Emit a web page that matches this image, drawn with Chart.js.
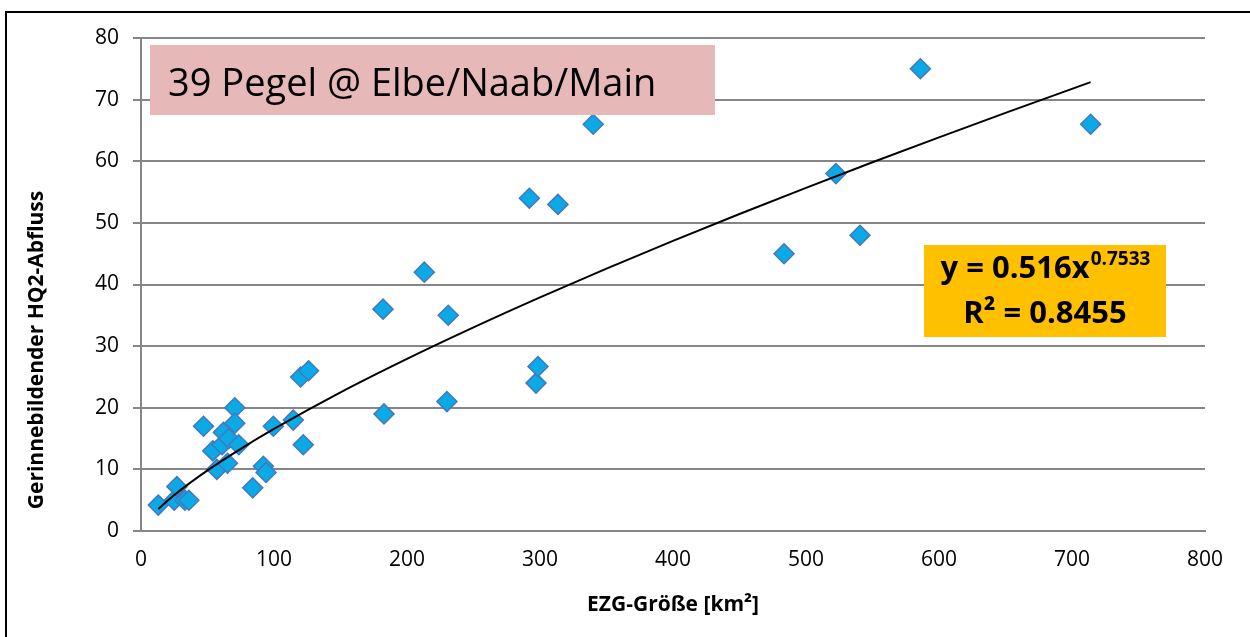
<!DOCTYPE html>
<html>
<head>
<meta charset="utf-8">
<script src="https://cdn.jsdelivr.net/npm/chart.js@4/dist/chart.umd.min.js"></script>
<style>
  html, body { margin: 0; padding: 0; background: #fff; }
  #wrap { width: 1250px; height: 637px; position: relative; }
</style>
</head>
<body>
<div id="wrap"><canvas id="c" width="1250" height="637"></canvas></div>
<script>
// Pegel: EZG-Größe [km²] and HQ2 discharge
const ezg = [13, 25, 27, 33, 36, 47, 54, 57, 61, 62, 65, 66, 70.5, 70.5, 73.5,
  84, 92, 94, 99.5, 114.5, 120, 122, 126, 182, 182.7, 213, 230, 231, 292, 297,
  298.5, 313.5, 340, 483.5, 522.5, 540.6, 586, 714];
const hq2 = [4.2, 5, 7.2, 5, 5, 17, 13, 10, 14, 16, 11, 15, 20, 17.5, 14,
  7, 10.5, 9.5, 17, 18, 25, 14, 26, 36, 19, 42, 21, 35, 54, 24,
  26.7, 53, 66, 45, 58, 48, 75, 66];

// power trendline y = 0.516x^0.7533 (values taken at these x)
const trendX = [13, 25, 50, 75, 100, 150, 200, 250, 300, 350, 400, 450, 500, 550, 600, 650, 714];
const trendY = [3.56, 5.83, 9.83, 13.34, 16.56, 22.49, 27.92, 33.03, 37.9, 42.57, 47.07, 51.44, 55.69, 59.84, 63.88, 67.85, 72.84];

const xTicks = [0, 100, 200, 300, 400, 500, 600, 700, 800];
const yTicks = [0, 10, 20, 30, 40, 50, 60, 70, 80];

const titleText = '39 Pegel @ Elbe/Naab/Main';
const eqText = 'y = 0.516x';
const eqExp = '0.7533';
const r2Text = 'R² = 0.8455';

const FONT = "'Open Sans', 'Noto Sans', sans-serif";

const decor = {
  id: 'decor',
  afterDraw(chart) {
    const ctx = chart.ctx;
    ctx.save();
    // outer frame
    ctx.strokeStyle = '#000';
    ctx.lineWidth = 2;
    ctx.strokeRect(6, 12, 1260, 640);

    // pink title box
    ctx.fillStyle = '#E6B9B8';
    ctx.fillRect(150, 45, 565, 70);
    ctx.fillStyle = '#000';
    ctx.font = '38px ' + FONT;
    ctx.textBaseline = 'alphabetic';
    ctx.textAlign = 'left';
    ctx.fillText(titleText, 168, 96);

    // orange equation box
    ctx.fillStyle = '#FFC000';
    ctx.fillRect(924, 245, 242, 92);
    ctx.fillStyle = '#000';
    ctx.font = 'bold 31px ' + FONT;
    const w1 = ctx.measureText(eqText).width;
    ctx.font = 'bold 19px ' + FONT;
    const w2 = ctx.measureText(eqExp).width;
    let x0 = 1045 - (w1 + w2) / 2;
    ctx.font = 'bold 31px ' + FONT;
    ctx.fillText(eqText, x0, 278);
    ctx.font = 'bold 19px ' + FONT;
    ctx.fillText(eqExp, x0 + w1 + 1, 265);
    ctx.font = 'bold 31px ' + FONT;
    ctx.textAlign = 'center';
    ctx.fillText(r2Text, 1045, 323);

    // y axis title
    ctx.translate(37, 350);
    ctx.rotate(-Math.PI / 2);
    ctx.font = 'bold 21px ' + FONT;
    ctx.textAlign = 'center';
    ctx.textBaseline = 'middle';
    ctx.fillText('Gerinnebildender HQ2-Abfluss', 0, 0);
    ctx.restore();
  }
};

new Chart(document.getElementById('c'), {
  type: 'scatter',
  data: {
    datasets: [
      {
        label: 'Pegel',
        data: ezg.map((x, i) => ({ x: x, y: hq2[i] })),
        pointStyle: 'rectRot',
        pointRadius: 10,
        backgroundColor: '#0BA9E6',
        borderColor: '#4379BD',
        borderWidth: 1.5,
        order: 1
      },
      {
        label: 'Trend',
        data: trendX.map((x, i) => ({ x: x, y: trendY[i] })),
        showLine: true,
        pointRadius: 0,
        borderColor: '#000',
        borderWidth: 2,
        cubicInterpolationMode: 'monotone',
        order: 0
      }
    ]
  },
  options: {
    responsive: false,
    animation: false,
    events: [],
    layout: { padding: { left: 0, top: 38, right: 45, bottom: 0 } },
    plugins: { legend: { display: false }, tooltip: { enabled: false } },
    scales: {
      x: {
        type: 'linear',
        min: 0, max: 800,
        afterBuildTicks: s => { s.ticks = xTicks.map(v => ({ value: v })); },
        afterFit: s => { s.height = 106; },
        grid: { display: false, drawOnChartArea: false, tickLength: 8, color: '#868686', lineWidth: 2 },
        border: { display: true, color: '#868686', width: 2 },
        ticks: { color: '#000', font: { family: FONT, size: 21 }, padding: 8 },
        title: {
          display: true, text: 'EZG-Größe [km²]', color: '#000',
          font: { family: FONT, size: 21, weight: 'bold' },
          padding: { top: 0, bottom: 19 }
        }
      },
      y: {
        type: 'linear',
        min: 0, max: 80,
        afterBuildTicks: s => { s.ticks = yTicks.map(v => ({ value: v })); },
        afterFit: s => { s.width = 141; },
        grid: { color: '#868686', lineWidth: 2, tickLength: 8 },
        border: { display: true, color: '#868686', width: 2 },
        ticks: { color: '#000', font: { family: FONT, size: 21 }, padding: 14 }
      }
    }
  },
  plugins: [decor]
});
</script>
</body>
</html>
